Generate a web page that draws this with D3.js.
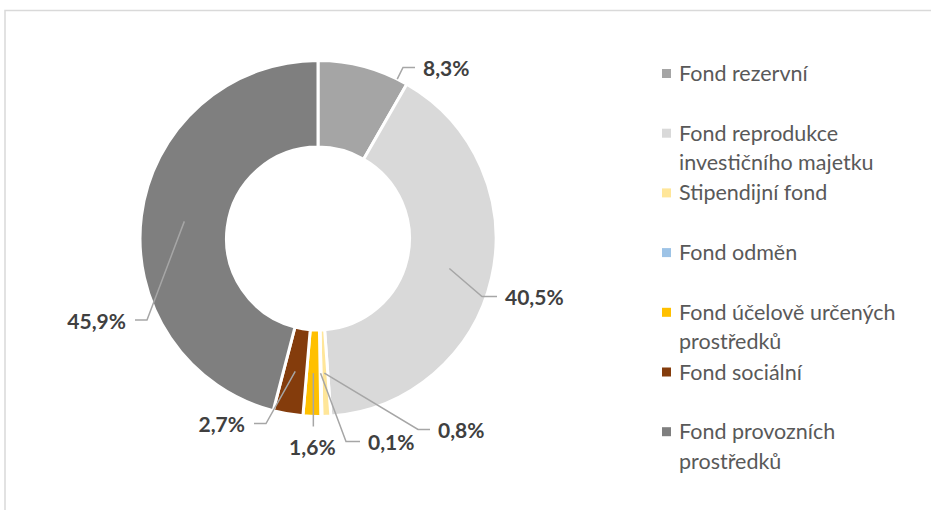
<!DOCTYPE html>
<html>
<head>
<meta charset="utf-8">
<script src="https://cdn.jsdelivr.net/npm/d3@7"></script>
<style>
  body { margin: 0; background: #fff; }
  svg { display: block; font-family: Lato, "Open Sans", sans-serif; }
</style>
</head>
<body>
<svg id="chart" width="931" height="510"></svg>
<script>
// data
var categories = ['Fond rezervní', 'Fond reprodukce investičního majetku', 'Stipendijní fond',
                  'Fond odměn', 'Fond účelově určených prostředků', 'Fond sociální', 'Fond provozních prostředků'];
var shares = [8.3, 40.5, 0.8, 0.1, 1.6, 2.7, 45.9];
var colors = ['#a5a5a5', '#d9d9d9', '#ffe699', '#9dc3e6', '#ffc000', '#843c0c', '#7f7f7f'];

// where the data labels sit, relative to the centre of the ring
// elbow = bend of the leader line, run = horizontal bit after the bend
var labelLayout = [
  {from: 'edge', elbow: [85, -171], run: 12},
  {from: 'mid', elbow: [164, 58], run: 15},
  {from: 'mid', elbow: [100, 191], run: 12},
  {from: 'mid', elbow: [28, 203], run: 14},
  {from: 'mid', elbow: null, drop: 188},     // straight down, text under it
  {from: 'mid', elbow: [-52, 185], run: -12},
  {from: 'mid', elbow: [-171, 81.5], run: -12}
];

var width = 931, height = 510;
var cx = 318, cy = 238.5, outerR = 178, innerR = 91.5;

var svg = d3.select('#chart');

// chart area frame (only top and left are visible)
svg.append('path')
  .attr('d', 'M5,' + height + 'V10.5H' + width)
  .attr('fill', 'none')
  .attr('stroke', '#d9d9d9')
  .attr('stroke-width', 1.5);

var locale = d3.formatLocale({decimal: ',', thousands: ' ', grouping: [3], currency: ['', ' Kč']});
var fmt = locale.format('.1f');

var pie = d3.pie().sort(null).value(function(d) { return d; });
var arcs = pie(shares);

var arc = d3.arc().innerRadius(innerR).outerRadius(outerR);

var g = svg.append('g').attr('transform', 'translate(' + cx + ',' + cy + ')');

g.selectAll('path.slice')
  .data(arcs)
  .enter().append('path')
  .attr('class', 'slice')
  .attr('d', arc)
  .attr('fill', function(d, i) { return colors[i]; })
  .attr('stroke', '#fff')
  .attr('stroke-width', 3)
  .attr('stroke-linejoin', 'round');

// leader lines + labels
var midR = (innerR + outerR) / 2;
function polar(r, a) { return [r * Math.sin(a), -r * Math.cos(a)]; }

arcs.forEach(function(d, i) {
  var L = labelLayout[i];
  var start;
  if (L.from === 'edge') {
    // aim at the elbow, but stay inside the slice
    var a = Math.atan2(L.elbow[0], -L.elbow[1]);
    a = Math.max(d.startAngle, Math.min(d.endAngle, a));
    start = polar(outerR, a);
  } else {
    start = polar(midR, (d.startAngle + d.endAngle) / 2);
  }
  var pts, tx, ty, anchor;
  if (L.elbow) {
    var end = [L.elbow[0] + L.run, L.elbow[1]];
    pts = [start, L.elbow, end];
    anchor = L.run > 0 ? 'start' : 'end';
    tx = end[0] + (L.run > 0 ? 8 : -9);
    ty = end[1] + 1.5;
  } else {
    pts = [start, [start[0], L.drop]];
    anchor = 'middle';
    tx = start[0] - 1;
    ty = L.drop + 21;
  }
  g.append('path')
    .attr('d', d3.line()(pts))
    .attr('fill', 'none')
    .attr('stroke', '#a6a6a6')
    .attr('stroke-width', 1.5);
  g.append('text')
    .attr('x', tx)
    .attr('y', ty)
    .attr('dy', '0.35em')
    .attr('text-anchor', anchor)
    .attr('font-size', 21)
    .attr('font-weight', 'bold')
    .attr('fill', '#404040')
    .text(fmt(shares[i]) + '%');
});

// legend
var legX = 662, legY = 73.5, legStep = 59.7, lineH = 29.5, wrapW = 240;
var legend = svg.append('g');

categories.forEach(function(name, i) {
  var y = legY + i * legStep;
  legend.append('rect')
    .attr('x', legX)
    .attr('y', y - 4.5)
    .attr('width', 9)
    .attr('height', 9)
    .attr('fill', colors[i]);
  var t = legend.append('text')
    .attr('x', legX + 17)
    .attr('y', y)
    .attr('font-size', 21.5)
    .attr('fill', '#595959');
  // simple word wrap
  var words = name.split(' '), line = [], lineNo = 0;
  var ts = t.append('tspan').attr('x', legX + 17).attr('dy', '0.35em');
  words.forEach(function(w) {
    line.push(w);
    ts.text(line.join(' '));
    if (ts.node().getComputedTextLength() > wrapW && line.length > 1) {
      line.pop();
      ts.text(line.join(' '));
      line = [w];
      lineNo++;
      ts = t.append('tspan').attr('x', legX + 17).attr('y', y + lineNo * lineH).attr('dy', '0.35em').text(w);
    }
  });
});
</script>
</body>
</html>
